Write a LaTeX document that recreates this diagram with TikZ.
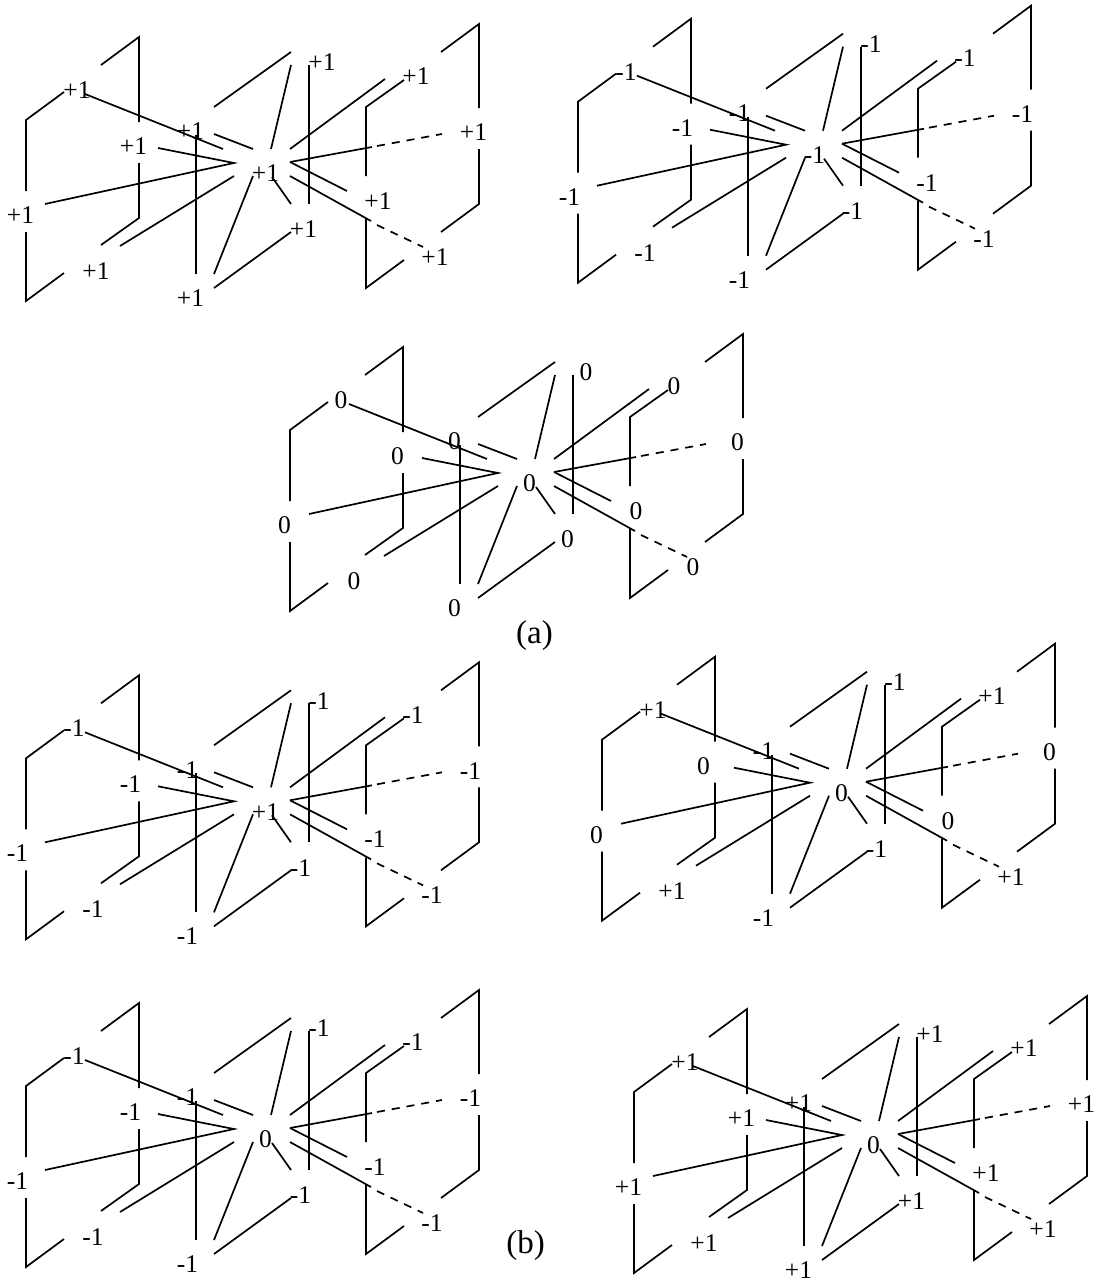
\documentclass[tikz,border=0pt]{standalone}
\usepackage{fontspec}
\setmainfont{Liberation Serif}
\tikzset{
  wire/.style={line width=1.7pt,line cap=butt,line join=miter},
  dashwire/.style={wire,dash pattern=on 8pt off 7pt},
  lab/.style={inner sep=0pt,outer sep=0pt,font=\fontsize{25.5}{25.5}\selectfont,text=black},
  labp/.style={lab,node contents={+1}},
  labm/.style={lab,xshift=-3pt,node contents={-1}},
  labz/.style={lab,node contents={0}},
  labl/.style={lab,xshift=-6pt,node contents={0}},
  caption/.style={inner sep=0pt,font=\fontsize{33}{33}\selectfont},
}
% #1 cell name, #2 x offset, #3 y offset, #4 list of slot/kind for the labels
\newcommand{\latticecell}[4]{%
  \begin{scope}[shift={(#2,#3)}]
    \foreach \n/\x/\y in {
      a1/101/65,a2/139/37,a3/139/122,a4/139/163,a5/139/218,a6/101/245,
      a7/64/92,a8/26/120,a9/26/191,a10/26/232,a11/26/301,a12/64/273,
      w1/85/94,w2/223/149,w3/214/134,w4/253/149,
      w5/158/148,w6/234/163,w7/45/204,w8/234/176,w9/120/246,
      w10/214/107,w11/291/52,w12/291/65,w13/271/149,
      w14/253/176,w15/214/274,w16/214/288,w17/291/232,
      v1/196/135,v2/196/274,v3/309/65,v4/309/204,
      e1/290/149,e2/385/79,e3/290/162,e4/372/147,e5/377/146,e6/442/134,
      e7/347/191,e8/290/176,e9/371/221,e10/377/225,e11/423/247,
      e12/272/177,e13/291/204,
      b1/366/176,b2/366/107,b3/404/80,b4/366/219,b5/366/288,b6/404/260,
      b7/441/52,b8/479/24,b9/479/108,b10/479/149,b11/479/204,b12/441/232,
      tl/77/90,ml/133.5/146,mid/190.5/131.5,lf/20.5/215,bl/96/271,bt/190.5/298,
      ct/265.5/173.5,tp/322/62.5,tr/416/76.5,rt/473.5/132.5,mr/378/201,
      br/303.5/229.5,dr/435/257}
      {\coordinate (#1-\n) at (\x,\y);}
    \draw[wire] (#1-a1) -- (#1-a2) -- (#1-a3);
    \draw[wire] (#1-a4) -- (#1-a5) -- (#1-a6);
    \draw[wire] (#1-a7) -- (#1-a8) -- (#1-a9);
    \draw[wire] (#1-a10) -- (#1-a11) -- (#1-a12);
    \draw[wire] (#1-w1) -- (#1-w2);
    \draw[wire] (#1-w3) -- (#1-w4);
    \draw[wire] (#1-w5) -- (#1-w6) -- (#1-w7);
    \draw[wire] (#1-w8) -- (#1-w9);
    \draw[wire] (#1-w10) -- (#1-w11);
    \draw[wire] (#1-w12) -- (#1-w13);
    \draw[wire] (#1-w14) -- (#1-w15);
    \draw[wire] (#1-w16) -- (#1-w17);
    \draw[wire] (#1-v1) -- (#1-v2);
    \draw[wire] (#1-v3) -- (#1-v4);
    \draw[wire] (#1-e1) -- (#1-e2);
    \draw[wire] (#1-e3) -- (#1-e4);
    \draw[dashwire] (#1-e5) -- (#1-e6);
    \draw[wire] (#1-e3) -- (#1-e7);
    \draw[wire] (#1-e8) -- (#1-e9);
    \draw[dashwire] (#1-e10) -- (#1-e11);
    \draw[wire] (#1-e12) -- (#1-e13);
    \draw[wire] (#1-b1) -- (#1-b2) -- (#1-b3);
    \draw[wire] (#1-b4) -- (#1-b5) -- (#1-b6);
    \draw[wire] (#1-b7) -- (#1-b8) -- (#1-b9);
    \draw[wire] (#1-b10) -- (#1-b11) -- (#1-b12);
    \foreach \s/\k in {#4}
      {\node[name=#1-\s-label,at={(#1-\s)},lab\k];}
  \end{scope}%
}
\begin{document}
\begin{tikzpicture}[x=1pt,y=-1pt]
\useasboundingbox (0,0) rectangle (1099,1282);
\latticecell{A}{0}{0}{tl/p,ml/p,mid/p,lf/p,bl/p,bt/p,ct/p,tp/p,tr/p,rt/p,mr/p,br/p,dr/p}
\latticecell{B}{552}{-18.3}{tl/m,ml/m,mid/m,lf/m,bl/m,bt/m,ct/m,tp/m,tr/m,rt/m,mr/m,br/m,dr/m}
\latticecell{C}{264}{310}{tl/z,ml/z,mid/z,lf/z,bl/l,bt/z,ct/z,tp/z,tr/l,rt/z,mr/l,br/z,dr/l}
\latticecell{D}{0}{638.3}{tl/m,ml/m,mid/m,lf/m,bl/m,bt/m,ct/p,tp/m,tr/m,rt/m,mr/m,br/m,dr/m}
\latticecell{E}{576}{619.7}{tl/p,ml/l,mid/m,lf/z,bl/p,bt/m,ct/z,tp/m,tr/p,rt/z,mr/l,br/m,dr/p}
\latticecell{F}{0}{966}{tl/m,ml/m,mid/m,lf/m,bl/m,bt/m,ct/z,tp/m,tr/m,rt/m,mr/m,br/m,dr/m}
\latticecell{G}{608}{972}{tl/p,ml/p,mid/p,lf/p,bl/p,bt/p,ct/z,tp/p,tr/p,rt/p,mr/p,br/p,dr/p}
\node[caption] (capa) at (534.5,636) {(a)};
\node[caption] (capb) at (525.5,1246) {(b)};
\end{tikzpicture}
\end{document}
